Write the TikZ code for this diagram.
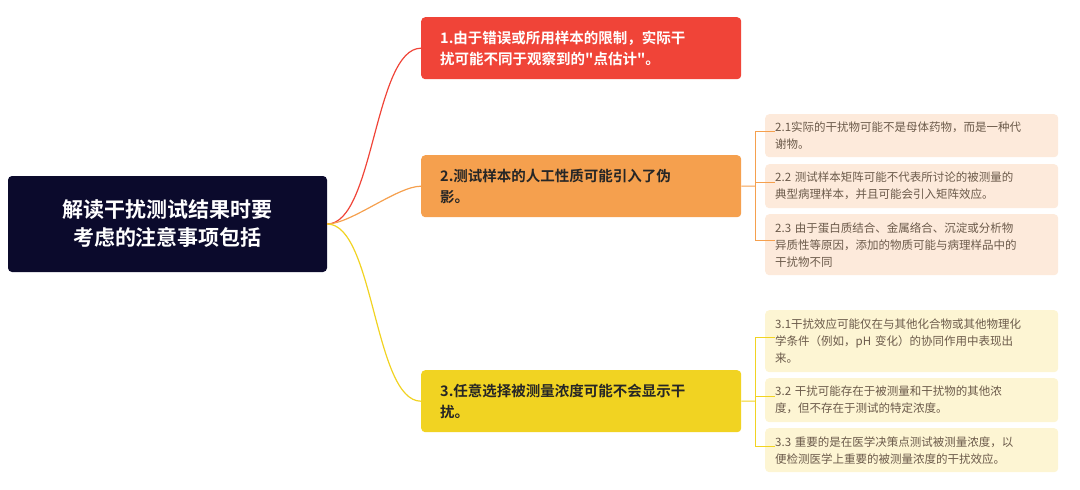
\documentclass[tikz,border=0pt]{standalone}
\usepackage{fontspec}
\setmainfont{Noto Sans CJK SC}
\newfontfamily\cjkbold{Noto Sans CJK SC Bold}
\usetikzlibrary{positioning}
\definecolor{rootfill}{HTML}{0B0A2C}
\definecolor{redfill}{HTML}{F04438}
\definecolor{orangefill}{HTML}{F5A04E}
\definecolor{yellowfill}{HTML}{F1D322}
\definecolor{orangelight}{HTML}{FDEADB}
\definecolor{yellowlight}{HTML}{FDF5D3}
\definecolor{subtext}{HTML}{6B5A4A}
\tikzset{
  rootbox/.style={rounded corners=4pt, fill=rootfill, text=white, font=\cjkbold\fontsize{21}{28}\selectfont, align=center, minimum width=319pt, minimum height=96pt, inner sep=0pt},
  mainbox/.style={rounded corners=4pt, font=\cjkbold\fontsize{14.5}{21}\selectfont, align=left, text width=292pt, minimum height=62pt, inner sep=0pt, anchor=north west},
  subbox/.style={rounded corners=4pt, font=\fontsize{11.5}{17}\selectfont, text=subtext, align=left, text width=283pt, inner sep=0pt, anchor=north west},
  link/.style={line width=1.2pt}
}
\begin{document}
\begin{tikzpicture}[x=1pt, y=-1pt]
\useasboundingbox (0,0) rectangle (1080,490);
% root and main topics
\node[rootbox] (root) at (167.5,224) {解读干扰测试结果时要\\考虑的注意事项包括};
\node[mainbox, fill=redfill, text=white, minimum width=320pt, text width=292pt, align=left] (t1) at (421,17) {\hspace*{5pt}1.由于错误或所用样本的限制，实际干\\\hspace*{5pt}扰可能不同于观察到的"点估计"。};
\node[mainbox, fill=orangefill, text=black!85, minimum width=320pt] (t2) at (421,155) {\hspace*{5pt}2.测试样本的人工性质可能引入了伪\\\hspace*{5pt}影。};
\node[mainbox, fill=yellowfill, text=black!85, minimum width=320pt] (t3) at (421,370) {\hspace*{5pt}3.任意选择被测量浓度可能不会显示干\\\hspace*{5pt}扰。};

% sub topics
\node[subbox, fill=orangelight, minimum width=293pt, minimum height=43pt] (s21) at (765,114) {\hspace*{5pt}2.1实际的干扰物可能不是母体药物，而是一种代\\\hspace*{5pt}谢物。};
\node[subbox, fill=orangelight, minimum width=293pt, minimum height=44pt] (s22) at (765,164) {\hspace*{5pt}2.2 测试样本矩阵可能不代表所讨论的被测量的\\\hspace*{5pt}典型病理样本，并且可能会引入矩阵效应。};
\node[subbox, fill=orangelight, minimum width=293pt, minimum height=61pt] (s23) at (765,214) {\hspace*{5pt}2.3 由于蛋白质结合、金属络合、沉淀或分析物\\\hspace*{5pt}异质性等原因，添加的物质可能与病理样品中的\\\hspace*{5pt}干扰物不同};
\node[subbox, fill=yellowlight, minimum width=293pt, minimum height=62pt] (s31) at (765,310) {\hspace*{5pt}3.1干扰效应可能仅在与其他化合物或其他物理化\\\hspace*{5pt}学条件（例如，pH 变化）的协同作用中表现出\\\hspace*{5pt}来。};
\node[subbox, fill=yellowlight, minimum width=293pt, minimum height=44pt] (s32) at (765,378) {\hspace*{5pt}3.2 干扰可能存在于被测量和干扰物的其他浓\\\hspace*{5pt}度，但不存在于测试的特定浓度。};
\node[subbox, fill=yellowlight, minimum width=293pt, minimum height=44pt] (s33) at (765,428) {\hspace*{5pt}3.3 重要的是在医学决策点测试被测量浓度，以\\\hspace*{5pt}便检测医学上重要的被测量浓度的干扰效应。};

% links
\draw[link, redfill] (root.east) to[out=0, in=180, looseness=0.6] (t1.west);
\draw[link, orangefill] (root.east) to[out=0, in=180, looseness=0.6] (t2.west);
\draw[link, yellowfill] (root.east) to[out=0, in=180, looseness=0.6] (t3.west);
\coordinate (b2) at (755,186);
\coordinate (b3) at (755,401);
\begin{scope}[line width=1pt, orangefill]
\draw (t2.east) -- (b2);
\draw (b2) |- ([yshift=4pt]s21.west) -- ++(10,0);
\draw (b2) |- ([yshift=4pt]s22.west) -- ++(10,0);
\draw (b2) |- ([yshift=4pt]s23.west) -- ++(10,0);
\end{scope}
\begin{scope}[line width=1pt, yellowfill]
\draw (t3.east) -- (b3);
\draw (b3) |- ([yshift=4pt]s31.west) -- ++(10,0);
\draw (b3) |- ([yshift=4pt]s32.west) -- ++(10,0);
\draw (b3) |- ([yshift=4pt]s33.west) -- ++(10,0);
\end{scope}
\end{tikzpicture}
\end{document}
